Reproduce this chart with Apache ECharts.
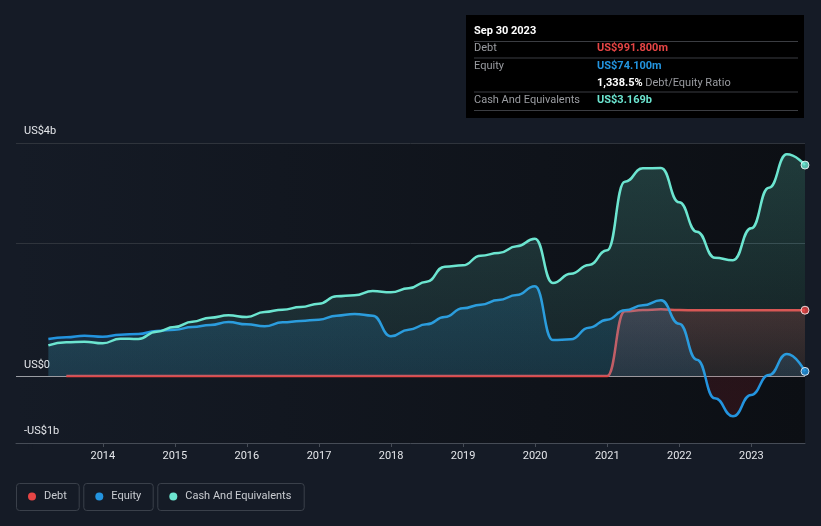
<!DOCTYPE html>
<html><head><meta charset="utf-8">
<script src="https://cdn.jsdelivr.net/npm/echarts@6/dist/echarts.min.js"></script>
<style>html,body{margin:0;padding:0;background:#151b26;}#c{width:821px;height:526px;}</style>
</head><body><div id="c"></div>
<script>
const quarters = [
 '2013-03-31','2013-06-30','2013-09-30','2013-12-31',
 '2014-03-31','2014-06-30','2014-09-30','2014-12-31',
 '2015-03-31','2015-06-30','2015-09-30','2015-12-31',
 '2016-03-31','2016-06-30','2016-09-30','2016-12-31',
 '2017-03-31','2017-06-30','2017-09-30','2017-12-31',
 '2018-03-31','2018-06-30','2018-09-30','2018-12-31',
 '2019-03-31','2019-06-30','2019-09-30','2019-12-31',
 '2020-03-31','2020-06-30','2020-09-30','2020-12-31',
 '2021-03-31','2021-06-30','2021-09-30','2021-12-31',
 '2022-03-31','2022-06-30','2022-09-30','2022-12-31',
 '2023-03-31','2023-06-30','2023-09-30'
];
// values in US$ billions
const debt = [
 null,0.004,0.004,0.004,
 0.004,0.004,0.004,0.004,
 0.004,0.004,0.004,0.004,
 0.004,0.004,0.004,0.004,
 0.004,0.004,0.004,0.004,
 0.004,0.004,0.004,0.004,
 0.004,0.004,0.004,0.004,
 0.004,0.004,0.004,0.004,
 0.975,0.995,1.005,0.995,
 0.99,0.99,0.99,0.99,
 0.99,0.99,0.9918
];
const equity = [
 0.56,0.585,0.61,0.595,
 0.625,0.635,0.68,0.70,
 0.74,0.77,0.815,0.78,
 0.75,0.81,0.83,0.85,
 0.91,0.935,0.91,0.60,
 0.70,0.78,0.89,1.02,
 1.075,1.145,1.22,1.35,
 0.545,0.555,0.73,0.85,
 0.99,1.065,1.14,0.79,
 0.25,-0.33,-0.60,-0.28,
 0.02,0.335,0.0741
];
const cash = [
 0.465,0.51,0.52,0.495,
 0.565,0.56,0.67,0.74,
 0.82,0.88,0.915,0.89,
 0.965,1.0,1.04,1.09,
 1.2,1.215,1.28,1.26,
 1.32,1.42,1.645,1.665,
 1.81,1.85,1.95,2.065,
 1.40,1.54,1.67,1.89,
 2.92,3.12,3.125,2.61,
 2.17,1.78,1.74,2.22,
 2.83,3.33,3.169
];
const firstYearLabel = 2014;
const seriesNames = ['Debt','Equity','Cash And Equivalents'];
const yTickLabels = {'-1':'-US$1b','0':'US$0','3.5':'US$4b'};
const tipTitle = 'Sep 30 2023';
const tipRows = [
 ['Debt','US$991.800m'],
 ['Equity','US$74.100m'],
 ['Cash And Equivalents','US$3.169b']
];
const tipRatio = ['1,338.5%','Debt/Equity Ratio'];

const C = {debt:'#e64545', equity:'#2394df', cash:'#6ce5d0'};
const FONT = 'Roboto, "Noto Sans", sans-serif';
const pair = arr => quarters.map((d,i)=>[d, arr[i]]);
const last = quarters.length - 1;
const T = 'rgba(0,0,0,0)';
const PAGE_BG = '#151b26';

const chart = echarts.init(document.getElementById('c'), null, {renderer:'canvas'});

// legend boxes: [box left, box width]
const legendBoxes = [[16, 62.7], [83.3, 69.4], [157.3, 146.4]];
function legendItem(name, i){
  return {data:[name], left:legendBoxes[i][0] + 12, top:491, icon:'circle', itemWidth:8, itemHeight:8,
    padding:0, selectedMode:false,
    textStyle:{color:'#c9ccd1', fontSize:11, fontFamily:FONT, padding:[0,0,0,3]}};
}

const option = {
  animation:false,
  backgroundColor:PAGE_BG,
  useUTC:true,
  grid:{left:16, right:16, top:143, bottom:83, show:true, borderWidth:0,
    backgroundColor:new echarts.graphic.LinearGradient(0,0,1,0,[
      {offset:0,color:PAGE_BG},{offset:1,color:'#0c0f14'}])},
  legend:seriesNames.map(legendItem),
  xAxis:{type:'time', min:'2012-10-18', max:'2023-09-30', splitNumber:11,
    minInterval:365*86400000, maxInterval:366*86400000,
    axisLine:{show:true, onZero:false, lineStyle:{color:'#464c56', width:1}},
    axisTick:{show:true, length:4, lineStyle:{color:'#464c56'}},
    splitLine:{show:false},
    axisLabel:{color:'#e4e6ea', fontSize:11, fontFamily:FONT, margin:8,
      showMinLabel:false, showMaxLabel:false,
      formatter:v=>{const y=new Date(v).getUTCFullYear(); return y<firstYearLabel?'':String(y);}}},
  yAxis:{type:'value', min:-1, max:3.5, interval:0.5,
    axisLine:{show:false}, axisTick:{show:false},
    splitLine:{show:true, lineStyle:{width:1,
      color:[T,T,'#9a9da3',T,T,T,'#2f343c',T,T,'#2f343c']}},
    axisLabel:{inside:true, margin:8, verticalAlign:'bottom', padding:[0,0,6,0],
      color:'#e4e6ea', fontSize:11, fontFamily:FONT,
      formatter:v=>{const k=String(Math.round(v*10)/10); return yTickLabels[k]||'';}}},
  series:[
    {name:seriesNames[0], type:'line', data:pair(debt), color:C.debt, smooth:0.5, smoothMonotone:'x',
      symbol:'none', lineStyle:{width:2.5, color:C.debt}, areaStyle:{color:'rgba(230,69,69,0.2)'}, z:2},
    {name:seriesNames[1], type:'line', data:pair(equity), color:C.equity, smooth:0.5, smoothMonotone:'x',
      symbol:'none', lineStyle:{width:2.5, color:C.equity}, areaStyle:{color:'rgba(35,148,223,0.25)'}, z:3},
    {name:seriesNames[2], type:'line', data:pair(cash), color:C.cash, smooth:0.5, smoothMonotone:'x',
      symbol:'none', lineStyle:{width:2.5, color:C.cash}, areaStyle:{color:'rgba(108,229,208,0.18)'}, z:4},
    {name:'debtEnd', type:'scatter', data:[[quarters[last], debt[last]]], symbolSize:8, z:10, silent:true,
      itemStyle:{color:C.debt, borderColor:'#ffffff', borderWidth:1}},
    {name:'equityEnd', type:'scatter', data:[[quarters[last], equity[last]]], symbolSize:8, z:10, silent:true,
      itemStyle:{color:C.equity, borderColor:'#ffffff', borderWidth:1}},
    {name:'cashEnd', type:'scatter', data:[[quarters[last], cash[last]]], symbolSize:8, z:10, silent:true,
      itemStyle:{color:C.cash, borderColor:'#ffffff', borderWidth:1}}
  ],
  graphic:[]
};
chart.setOption(option);

// gradients anchored to axis pixel positions
const yPx = v => chart.convertToPixel({yAxisIndex:0}, v);
const yTop = yPx(3.5), yZero = yPx(0), yOne = yPx(1), yBot = yPx(-1);
const zOff = (yZero - yTop)/(yBot - yTop);
function glin(y1,y2,stops){ return {type:'linear', x:0, y:y1, x2:0, y2:y2, global:true, colorStops:stops}; }

const tipX = 474, valX = 597;
const tipLines = [41.5, 58, 92, 110.5];
const rowYs = [48.5, 66, 100];
// hide the year tick that falls before the first labelled year
const hiddenTickX = chart.convertToPixel({xAxisIndex:0}, (firstYearLabel-1)+'-01-01');
const graphic = [
  {type:'rect', shape:{x:hiddenTickX-2, y:yBot+1, width:4, height:5}, style:{fill:PAGE_BG}, z:100},
  {type:'rect', shape:{x:466, y:15, width:338, height:103}, style:{fill:'#000000'}, z:100},
  {type:'text', x:tipX, y:31, z:101, style:{text:tipTitle, fill:'#ffffff', fontSize:11, fontWeight:'bold', fontFamily:FONT, verticalAlign:'middle'}}
];
legendBoxes.forEach(b=>graphic.push({type:'rect', z:50, shape:{x:b[0]+0.5, y:483.5, width:b[1], height:27, r:3},
  style:{fill:'rgba(0,0,0,0)', stroke:'#3a404a', lineWidth:1}}));
tipLines.forEach(y=>graphic.push({type:'line', z:101, shape:{x1:tipX,y1:y,x2:798,y2:y}, style:{stroke:'#3b3d42', lineWidth:1}}));
const valColors = [C.debt, C.equity, C.cash];
tipRows.forEach((r,i)=>{
  graphic.push({type:'text', x:tipX, y:rowYs[i], z:101, style:{text:r[0], fill:'#9a9ca1', fontSize:11, fontFamily:FONT, verticalAlign:'middle'}});
  graphic.push({type:'text', x:valX, y:rowYs[i], z:101, style:{text:r[1], fill:valColors[i], fontSize:11, fontWeight:'bold', fontFamily:FONT, verticalAlign:'middle'}});
});
graphic.push({type:'text', x:valX, y:83.5, z:101, style:{
  text:'{w|'+tipRatio[0]+'} {g|'+tipRatio[1]+'}', verticalAlign:'middle', fontFamily:FONT, fontSize:11,
  rich:{w:{fill:'#ffffff', fontWeight:'bold', fontSize:11, fontFamily:FONT}, g:{fill:'#9a9ca1', fontSize:11, fontFamily:FONT}}}});

chart.setOption({
  series:[
    {areaStyle:{color:glin(yOne, yZero, [{offset:0,color:'rgba(230,69,69,0.30)'},{offset:1,color:'rgba(230,69,69,0.12)'}])}},
    {areaStyle:{color:glin(yTop, yBot, [
      {offset:0,color:'rgba(35,148,223,0.34)'},
      {offset:zOff-0.0005,color:'rgba(35,148,223,0.20)'},
      {offset:zOff,color:'rgba(200,40,50,0.20)'},
      {offset:1,color:'rgba(200,40,50,0.22)'}])}},
    {areaStyle:{color:glin(yTop, yZero, [{offset:0,color:'rgba(108,229,208,0.30)'},{offset:1,color:'rgba(108,229,208,0.11)'}])}}
  ],
  graphic:graphic
});
</script></body></html>
